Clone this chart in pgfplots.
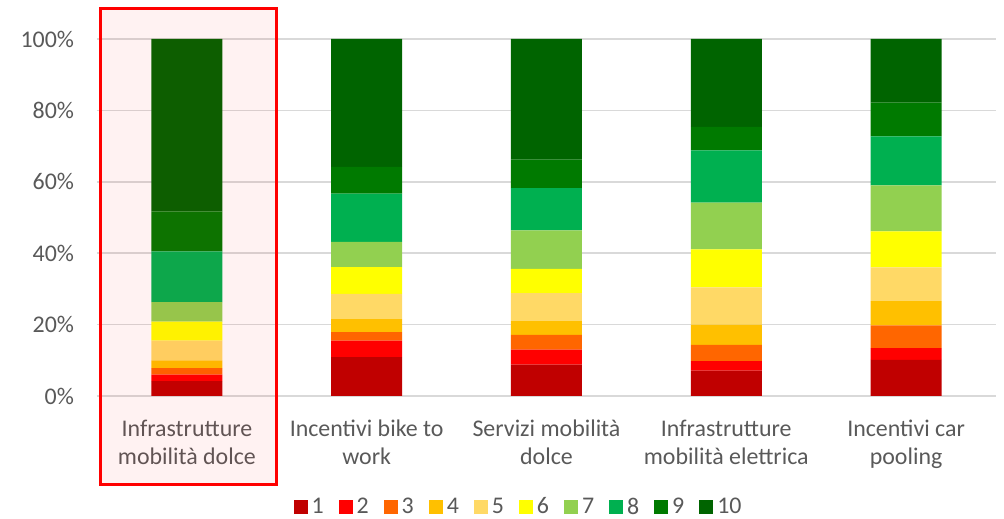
\documentclass[border=0pt]{standalone}
\usepackage{fontspec}
\setmainfont{Carlito}
\usepackage{pgfplots}
\usepackage{pgfplotstable}
\pgfplotsset{compat=1.18}

\definecolor{txt}{HTML}{595959}
\definecolor{gridc}{HTML}{D9D9D9}
\definecolor{c1}{HTML}{C00000}
\definecolor{c2}{HTML}{FF0000}
\definecolor{c3}{HTML}{FF6600}
\definecolor{c4}{HTML}{FFC000}
\definecolor{c5}{HTML}{FFD966}
\definecolor{c6}{HTML}{FFFF00}
\definecolor{c7}{HTML}{92D050}
\definecolor{c8}{HTML}{00B050}
\definecolor{c9}{HTML}{007A00}
\definecolor{c10}{HTML}{006400}

% share of answers (percent) per score, one row per measure
\pgfplotstableread{
x  s1   s2  s3  s4  s5   s6   s7   s8   s9   s10
0  4.2  1.8 1.8 2.2 5.5  5.3  5.5  14.2 11.2 48.3
1  10.9 4.6 2.4 3.6 7.1  7.5  7.1  13.5 7.5  35.8
2  8.8  4.2 4.1 3.9 7.8  6.8  10.8 11.8 8.0  33.8
3  7.1  2.7 4.5 5.7 10.4 10.7 13.1 14.6 6.6  24.6
4  10.1 3.3 6.4 6.8 9.4  10.1 12.9 13.7 9.5  17.8
}\votes

\begin{document}
\begin{tikzpicture}
\useasboundingbox (-48.5bp,-61.5bp) rectangle (453.5bp,198bp);
\begin{axis}[
  scale only axis, width=449.5bp, height=178.5bp,
  ybar stacked, bar width=35.5bp,
  xmin=-0.5, xmax=4.5, ymin=0, ymax=100,
  xtick={0,...,4},
  xticklabels={{Infrastrutture\\mobilità dolce},{Incentivi bike to\\work},{Servizi mobilità\\dolce},{Infrastrutture\\mobilità elettrica},{Incentivi car\\pooling}},
  xticklabel style={align=center, yshift=-8.5bp},
  ytick={0,20,...,100},
  yticklabel={\pgfmathprintnumber{\tick}\%},
  yticklabel style={xshift=-8bp},
  /pgf/number format/assume math mode=true,
  axis line style={draw=none}, major tick length=0pt,
  ymajorgrids, grid style={color=gridc, line width=0.75bp},
  font=\fontsize{12}{14}\selectfont,
  tick label style={text=txt, font=\fontsize{12}{14}\selectfont},
  legend columns=10,
  legend style={draw=none, fill=none, at={(0.470,-0.312)}, anchor=center,
    font=\fontsize{12}{14}\selectfont, text=txt, inner ysep=0bp,
    nodes={inner ysep=0.5bp},
    /tikz/every even column/.append style={column sep=5.5bp}},
  legend image code/.code={\fill[#1] (0bp,-3.5bp) rectangle (7bp,3.5bp);},
]
\addplot[fill=c1, draw=none] table[x=x, y=s1] {\votes};
\addplot[fill=c2, draw=none] table[x=x, y=s2] {\votes};
\addplot[fill=c3, draw=none] table[x=x, y=s3] {\votes};
\addplot[fill=c4, draw=none] table[x=x, y=s4] {\votes};
\addplot[fill=c5, draw=none] table[x=x, y=s5] {\votes};
\addplot[fill=c6, draw=none] table[x=x, y=s6] {\votes};
\addplot[fill=c7, draw=none] table[x=x, y=s7] {\votes};
\addplot[fill=c8, draw=none] table[x=x, y=s8] {\votes};
\addplot[fill=c9, draw=none] table[x=x, y=s9] {\votes};
\addplot[fill=c10, draw=none] table[x=x, y=s10] {\votes};
\legend{1,2,3,4,5,6,7,8,9,10}
\end{axis}
% highlight box round the first measure
\fill[red, opacity=0.05] (1.5bp,-44bp) rectangle (89.5bp,193.75bp);
\draw[red, line width=1.5bp] (1.5bp,-44bp) rectangle (89.5bp,193.75bp);
\end{tikzpicture}
\end{document}
